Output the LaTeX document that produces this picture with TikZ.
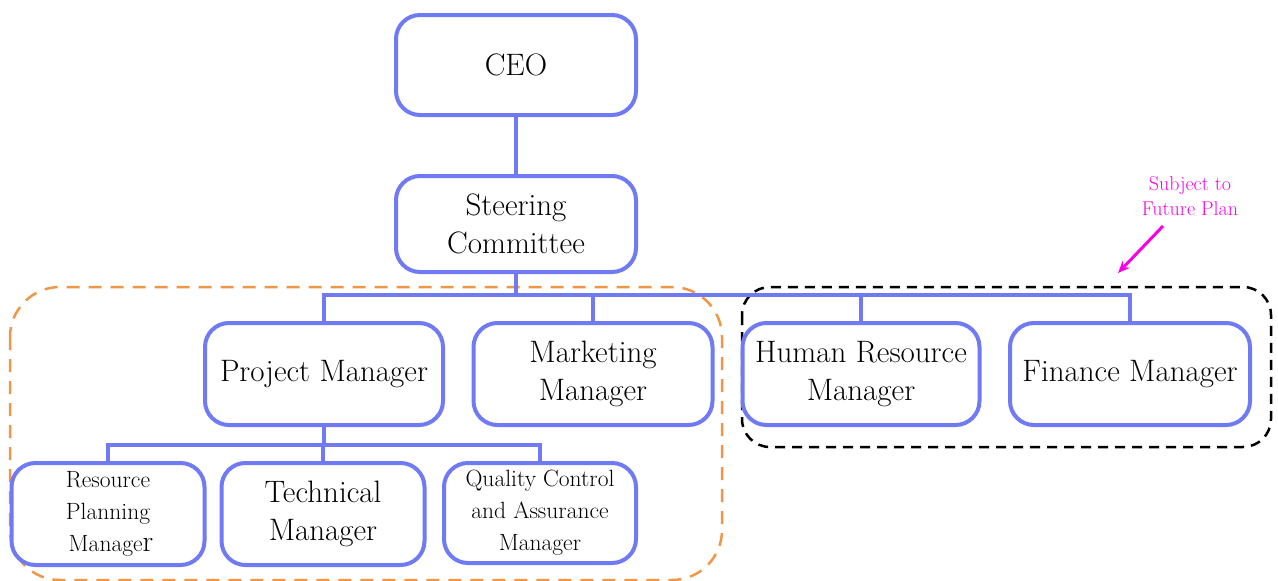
\documentclass[tikz,border=0pt]{standalone}
\usetikzlibrary{arrows.meta}

\definecolor{boxblue}{RGB}{112,122,245}
\definecolor{planorange}{RGB}{240,150,70}
\definecolor{notepink}{RGB}{250,0,230}

\tikzset{
  post/.style={draw=boxblue, line width=4pt, rounded corners=24pt, align=center,
    minimum width=240pt, minimum height=100pt, inner sep=2pt,
    font=\fontsize{31}{38}\selectfont},
  smallpost/.style={post, minimum width=193pt, font=\fontsize{23.5}{32}\selectfont},
  link/.style={draw=boxblue, line width=4pt},
}

\begin{document}
\begin{tikzpicture}[x=1pt,y=-1pt]
\useasboundingbox (0,0) rectangle (1278,581);

% groups
\draw[planorange, line width=2.5pt, dash pattern=on 13pt off 9pt, rounded corners=50pt]
  (10,287) rectangle (722,580);
\draw[black, line width=2.5pt, dash pattern=on 10pt off 7pt, rounded corners=28pt]
  (742,287) rectangle (1271,447);

% boxes
\node[post] (ceo) at (516,65) {CEO};
\node[post, minimum height=96pt] (steer) at (516,224) {Steering\\Committee};
\node[post, minimum width=238pt, minimum height=102pt] (pm) at (324,374) {Project Manager};
\node[post, minimum width=239pt, minimum height=102pt] (mm) at (593,374) {Marketing\\Manager};
\node[post, minimum width=237pt, minimum height=102pt] (hr) at (861,374) {Human Resource\\Manager};
\node[post, minimum width=240pt, minimum height=102pt] (fm) at (1130,374) {Finance Manager};
\node[smallpost, minimum height=102pt] (rpm) at (108,514) {Resource\\Planning\\\hspace*{6pt}Manage{\fontsize{30}{32}\selectfont r}};
\node[post, minimum width=203pt, minimum height=102pt] (tm) at (323,514) {Technical\\Manager};
\node[smallpost, minimum width=192pt, minimum height=100pt] (qcm) at (540,513) {Quality Control\\and Assurance\\Manager};

% connectors
\coordinate (bus) at (516,295);
\coordinate (bus2) at (324,445);
\draw[link] (ceo) -- (steer);
\draw[link] (steer) -- (bus);
\draw[link] (pm.north) |- (bus) -| (fm.north);
\draw[link] (mm.north) -- (mm.north |- bus);
\draw[link] (hr.north) -- (hr.north |- bus);
\draw[link] (pm) -- (bus2);
\draw[link] (rpm.north) |- (bus2) -| (qcm.north);
\draw[link] (tm.north) -- (tm.north |- bus2);

% note
\node[text=notepink, align=center, font=\fontsize{20}{25}\selectfont] (note) at (1190,196) {Subject to\\Future Plan};
\coordinate (tip) at (1118,273);
\draw[notepink, line width=3pt, -{Stealth[length=12pt,width=10pt]}] (1163,226) -- (tip);
\end{tikzpicture}
\end{document}
